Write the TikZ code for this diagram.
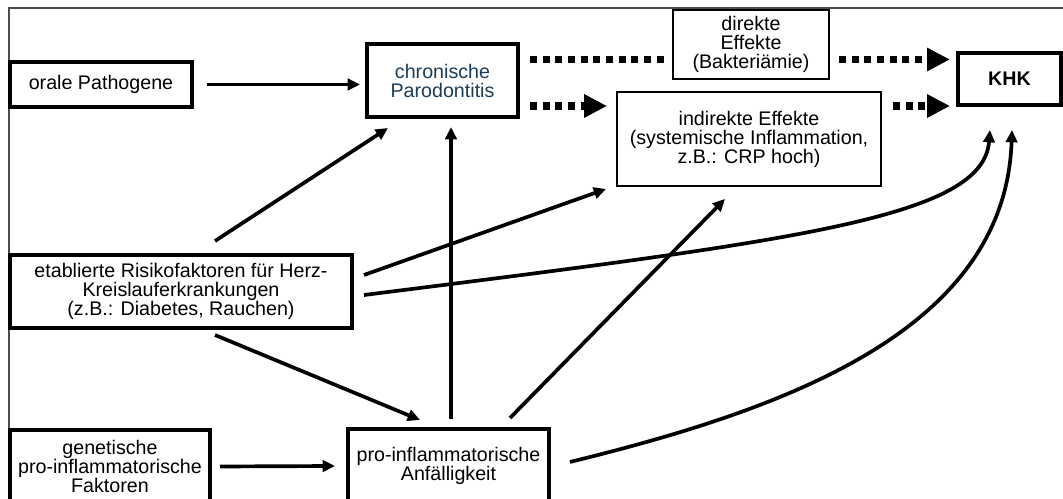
\documentclass[tikz,border=0pt]{standalone}
\usepackage{fontspec}
\setmainfont{Liberation Sans}
\usepackage{tikz}
\usetikzlibrary{arrows.meta,calc}
\usepackage{xcolor}
\definecolor{parodblue}{HTML}{1C3D5A}

\begin{document}
\begin{tikzpicture}[
  x=0.02cm, y=-0.02cm,
  font=\fontsize{11.2}{10.8}\selectfont,
  box/.style={rectangle, draw, line width=2.3pt, align=center, inner sep=0pt},
  thinbox/.style={rectangle, draw, line width=1.1pt, align=center, inner sep=0pt},
  link/.style={-{Triangle[length=7pt, width=6.5pt]}, line width=2.1pt},
  effect/.style={line width=4pt, dash pattern=on 4pt off 3.2pt},
  effarrow/.style={effect, -{Triangle[length=13pt, width=12.5pt]}}
]
\useasboundingbox (0,0) rectangle (1063,499);
\clip (0,0) rectangle (1063,499);

% ---------- frame ----------
\draw[gray!60!black, line width=0.6pt] (9,510) -- (9,8) -- (1070,8);

% ---------- causes ----------
\node[box, minimum width=3.64cm, minimum height=0.9cm] (oral) at (101,84.5)
  {orale Pathogene};
\node[box, minimum width=6.84cm, minimum height=1.46cm] (risk) at (181,291.5)
  {etablierte Risikofaktoren f\"ur Herz-\\Kreislauferkrankungen\\(z.B.: Diabetes, Rauchen)};
\node[box, minimum width=4.0cm, minimum height=1.46cm] (genet) at (110,466.5)
  {genetische\\pro-inflammatorische\\Faktoren};
\node[box, minimum width=4.02cm, minimum height=1.48cm] (anf) at (448.5,466)
  {pro-inflammatorische\\Anf\"alligkeit};

% ---------- disease and effects ----------
\node[box, text=parodblue, minimum width=3.02cm, minimum height=1.46cm] (chron)
  at (442.5,80.5) {chronische\\Parodontitis};
\node[thinbox, minimum width=3.12cm, minimum height=1.38cm] (direkt) at (751,44.5)
  {direkte\\Effekte\\(Bakteri\"amie)};
\node[thinbox, minimum width=5.28cm, minimum height=1.88cm] (indirekt) at (749,139)
  {indirekte Effekte\\(systemische Inflammation,\\z.B.: CRP hoch)};
\node[box, font=\fontsize{11.2}{10.8}\selectfont\bfseries,
      minimum width=2.06cm, minimum height=1.04cm] (KHK) at (1009.5,79) {KHK};

% ---------- effect paths (dashed) ----------
\coordinate (up) at ($(chron.east)+(0,-21)$);
\coordinate (low) at ($(chron.east)+(0,25.5)$);
\draw[effect, shorten <=0.2cm, shorten >=0.1cm] (up) -- (up -| direkt.west);
\draw[effarrow, shorten <=0.18cm, shorten >=0.12cm] (up -| direkt.east) -- (up -| KHK.west);
\draw[effarrow, shorten <=0.2cm, shorten >=0.18cm] (low) -- (low -| indirekt.west);
\draw[effarrow, shorten <=0.22cm, shorten >=0.12cm] (low -| indirekt.east) -- (low -| KHK.west);

% ---------- influences ----------
\draw[link, shorten <=0.26cm, shorten >=0.1cm] (oral.east) -- (oral.east -| chron.west);
\draw[link] ($(risk.north)+(34,-12)$) -- ($(chron.south)+(-54.5,9)$);
\draw[link] ($(risk.east)+(10,-16.5)$) -- ($(indirekt.south west)+(-10,2)$);
\draw[link] ($(risk.east)+(10,3.5)$) .. controls +(438,-55) and +(-7,87)
  .. ($(KHK.south)+(-19.5,23)$);
\draw[link] ($(risk.south)+(34,5)$) -- ($(anf.north)+(-28.5,-7)$);
\draw[link] ($(genet.east)+(8,0)$) -- ($(anf.west)+(-11,0)$);
\draw[link] ($(anf.north)+(2.5,-8)$) -- ($(chron.south)+(8.5,8)$);
\draw[link] ($(anf.north)+(61.5,-9)$) -- ($(indirekt.south)+(-24,12)$);
\draw[link] ($(anf.east)+(19,-4)$) .. controls +(212,-52) and +(-7,202)
  .. ($(KHK.south)+(2.5,23)$);

\end{tikzpicture}
\end{document}
